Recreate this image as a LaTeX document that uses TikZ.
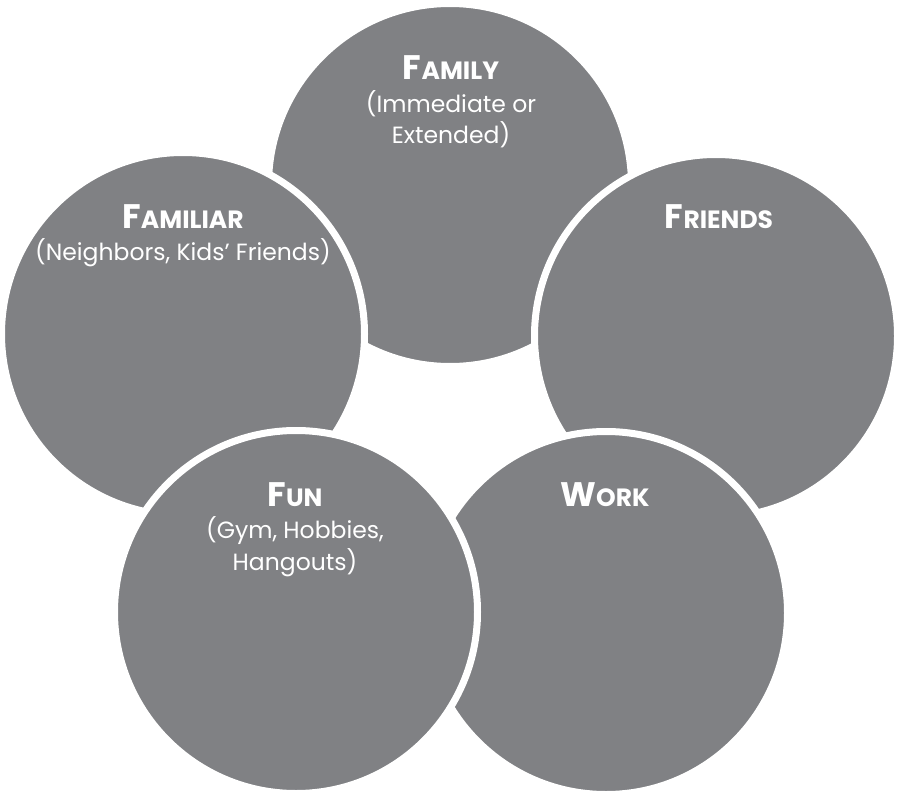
\documentclass[tikz,border=0pt]{standalone}
\usepackage{fontspec}
\setmainfont{Poppins}
\definecolor{circgray}{RGB}{128,129,132}
\tikzset{
  circ/.style={circle, fill=circgray, draw=white, line width=7pt, inner sep=0pt, minimum size=363pt},
  ttl/.style={anchor=base, text=white, font=\bfseries, inner sep=0pt},
  sub/.style={anchor=base, text=white, font=\fontsize{23.5}{26}\selectfont, inner sep=0pt}
}
\newcommand{\fauxsc}[2]{{\fontsize{34}{36}\selectfont #1}{\fontsize{25}{27}\selectfont #2}}
\begin{document}
\begin{tikzpicture}[x=1pt,y=-1pt]
\useasboundingbox (0,0) rectangle (897,792);
% circles, back to front
\node[circ] (family)   at (450,185) {};
\node[circ] (familiar) at (183,334) {};
\node[circ] (friends)  at (716,336) {};
\node[circ] (work)     at (606,613) {};
\node[circ] (fun)      at (296,612) {};
% labels
\node[ttl] (familyT) at (451,80) {\fauxsc{F}{AMILY}};
\node[sub] (familyS1) at (451,112) {(Immediate or};
\node[sub] (familyS2) at (451,143) {Extended)};
\node[ttl] (familiarT) at (183,228) {\fauxsc{F}{AMILIAR}};
\node[sub] (familiarS1) at (183,260) {(Neighbors, Kids’ Friends)};
\node[ttl] (friendsT) at (719,228) {\fauxsc{F}{RIENDS}};
\node[ttl] (funT) at (295,506) {\fauxsc{F}{UN}};
\node[sub] (funS1) at (295,538) {(Gym, Hobbies,};
\node[sub] (funS2) at (295,570) {Hangouts)};
\node[ttl] (workT) at (605,506) {\fauxsc{W}{ORK}};
\end{tikzpicture}
\end{document}
